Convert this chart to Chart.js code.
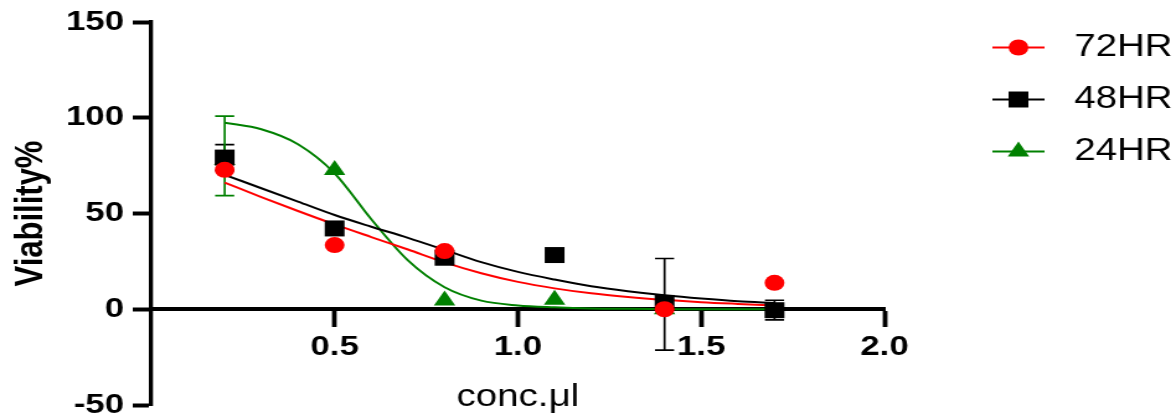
<!DOCTYPE html>
<html>
<head>
<meta charset="utf-8">
<script src="https://cdn.jsdelivr.net/npm/chart.js"></script>
<style>
  html, body { margin: 0; padding: 0; background: #fff; overflow: hidden; }
  /* the source picture is stretched sideways, so the chart is drawn narrow and widened */
  #wrap { width: 948px; height: 418px; transform: scaleX(1.2405); transform-origin: 0 0; }
</style>
</head>
<body>
<div id="wrap"><canvas id="viabilityChart"></canvas></div>
<script>
// measured points
var xValues = [0.2, 0.5, 0.8, 1.1, 1.4, 1.7];
var seriesNames = ["72HR", "48HR", "24HR"];
var viability72 = [72.8, 33.5, 30.4, null, 0, 13.8];
var viability48 = [79.2, 42.2, 26.9, 28.3, 3.3, -0.5];
var viability24 = [78, 72.7, 4.6, 5, 0, null];

// error bars (low / high), null where none is shown
var errLow48 = [72.4, null, null, null, -21.3, -5.6];
var errHigh48 = [86, null, null, null, 26.5, 4.7];
var errLow24 = [59.3, null, null, null, null, null];
var errHigh24 = [100.9, null, null, null, null, null];

// fitted curves
var fitX = [0.2, 0.3, 0.4, 0.5, 0.6, 0.7, 0.8, 0.9, 1.0, 1.1, 1.2, 1.3, 1.4, 1.5, 1.6, 1.7];
var fit72 = [66.1, 58.6, 51.3, 44.3, 37.7, 31.2, 24.5, 18.8, 14.3, 10.9, 8.3, 6.4, 4.9, 3.7, 2.8, 2.0];
var fit48 = [70.2, 63.2, 56.2, 49.2, 43.1, 37.3, 31.0, 24.6, 19.5, 15.5, 12.0, 9.4, 7.3, 5.6, 4.2, 3.3];
var fit24 = [97.4, 94.0, 86.2, 71.0, 47.0, 25.5, 11.5, 4.5, 2.0, 1.0, 0.4, 0.2, 0.1, 0, 0, 0];

var xTicks = [0.5, 1.0, 1.5, 2.0];
var yTicks = [-50, 0, 50, 100, 150];

var colors = ["#ff0000", "#000000", "#008000"];
var markers = ["circle", "rect", "triangle"];
var markerSize = [8, 11.3, 10];

function toXY(xs, ys) {
    var out = [];
    for (var i = 0; i < xs.length; i++) {
        if (ys[i] !== null) out.push({ x: xs[i], y: ys[i] });
    }
    return out;
}

var pointSets = [viability72, viability48, viability24];
var fitSets = [fit72, fit48, fit24];
var errSets = [null, [errLow48, errHigh48], [errLow24, errHigh24]];

var datasets = [];
// points first so they are drawn on top (red above black above green)
for (var i = 0; i < 3; i++) {
    datasets.push({
        label: seriesNames[i],
        data: toXY(xValues, pointSets[i]),
        showLine: false,
        pointStyle: markers[i],
        pointRadius: markerSize[i],
        pointHoverRadius: markerSize[i],
        pointBackgroundColor: colors[i],
        pointBorderWidth: 0,
        borderColor: colors[i]
    });
}
for (var j = 0; j < 3; j++) {
    datasets.push({
        label: seriesNames[j] + " fit",
        data: toXY(fitX, fitSets[j]),
        showLine: true,
        pointRadius: 0,
        borderColor: colors[j],
        borderWidth: 2,
        cubicInterpolationMode: "monotone",
        fill: false
    });
}

var errorBars = {
    id: "errorBars",
    beforeDatasetsDraw: function (chart) {
        var ctx = chart.ctx, xs = chart.scales.x, ys = chart.scales.y;
        ctx.save();
        ctx.lineWidth = 1.7;
        for (var s = 0; s < 3; s++) {
            if (!errSets[s]) continue;
            ctx.strokeStyle = colors[s];
            for (var k = 0; k < xValues.length; k++) {
                var lo = errSets[s][0][k], hi = errSets[s][1][k];
                if (lo === null || hi === null) continue;
                var px = xs.getPixelForValue(xValues[k]);
                var y1 = ys.getPixelForValue(lo), y2 = ys.getPixelForValue(hi);
                ctx.beginPath();
                ctx.moveTo(px, y1); ctx.lineTo(px, y2);
                ctx.moveTo(px - 7.7, y1); ctx.lineTo(px + 7.7, y1);
                ctx.moveTo(px - 7.7, y2); ctx.lineTo(px + 7.7, y2);
                ctx.stroke();
            }
        }
        ctx.restore();
    }
};

function drawMarker(ctx, style, r, x, y) {
    ctx.beginPath();
    if (style === "circle") {
        ctx.arc(x, y, r, 0, Math.PI * 2);
    } else if (style === "rect") {
        var h = r * Math.SQRT1_2;
        ctx.rect(x - h, y - h, 2 * h, 2 * h);
    } else {
        var a = 0;
        for (var n = 0; n < 3; n++) {
            var px = x + Math.sin(a) * r, py = y - Math.cos(a) * r;
            if (n === 0) ctx.moveTo(px, py); else ctx.lineTo(px, py);
            a += Math.PI * 2 / 3;
        }
        ctx.closePath();
    }
    ctx.fill();
}

var sideLegend = {
    id: "sideLegend",
    afterDraw: function (chart) {
        var ctx = chart.ctx;
        ctx.save();
        for (var i = 0; i < 3; i++) {
            var ds = chart.data.datasets[i];
            var y = 47.5 + i * 52;
            ctx.strokeStyle = ds.borderColor;
            ctx.lineWidth = 2;
            ctx.beginPath();
            ctx.moveTo(800, y); ctx.lineTo(842, y);
            ctx.stroke();
            ctx.fillStyle = ds.pointBackgroundColor;
            drawMarker(ctx, ds.pointStyle, ds.pointRadius, 821, y);
            ctx.fillStyle = "#000";
            ctx.font = "31px 'Liberation Sans', Arial, sans-serif";
            ctx.textBaseline = "middle";
            ctx.textAlign = "left";
            ctx.fillText(ds.label, 866, y);
        }
        ctx.restore();
    }
};

Chart.defaults.color = "#000";
Chart.defaults.font.family = "'Liberation Sans', Arial, sans-serif";

new Chart(document.getElementById("viabilityChart").getContext("2d"), {
    type: "scatter",
    data: { datasets: datasets },
    options: {
        responsive: true,
        maintainAspectRatio: false,
        devicePixelRatio: 1,
        animation: false,
        layout: { padding: { left: 0, top: 22, bottom: 13, right: 235 } },
        plugins: {
            legend: { display: false },
            tooltip: { enabled: false }
        },
        scales: {
            x: {
                type: "linear",
                position: { y: 0 },
                min: 0,
                max: 2,
                afterBuildTicks: function (scale) {
                    scale.ticks = xTicks.map(function (v) { return { value: v }; });
                },
                ticks: {
                    padding: 5,
                    font: { size: 28, weight: "bold" },
                    callback: function (v) { return Number(v).toFixed(1); }
                },
                grid: { drawOnChartArea: false, drawTicks: true, tickLength: 16, tickWidth: 3.8, tickColor: "#000" },
                border: { display: true, color: "#000", width: 4 },
                title: {
                    display: true,
                    text: "conc.\u03bcl",
                    font: { size: 31 },
                    padding: { top: 10.5, bottom: 0 }
                }
            },
            y: {
                type: "linear",
                position: "left",
                min: -50,
                max: 150,
                afterBuildTicks: function (scale) {
                    scale.ticks = yTicks.map(function (v) { return { value: v }; });
                },
                afterFit: function (scale) { scale.width = 122; },
                ticks: {
                    padding: 7,
                    font: { size: 28, weight: "bold", lineHeight: 0.3 }
                },
                grid: { drawOnChartArea: false, drawTicks: true, tickLength: 15, tickWidth: 4, tickColor: "#000" },
                border: { display: true, color: "#000", width: 3.3 },
                title: {
                    display: true,
                    text: "Viability%",
                    font: { size: 31, weight: "bold" },
                    padding: { top: 7, bottom: 0 }
                }
            }
        }
    },
    plugins: [errorBars, sideLegend]
});
</script>
</body>
</html>
